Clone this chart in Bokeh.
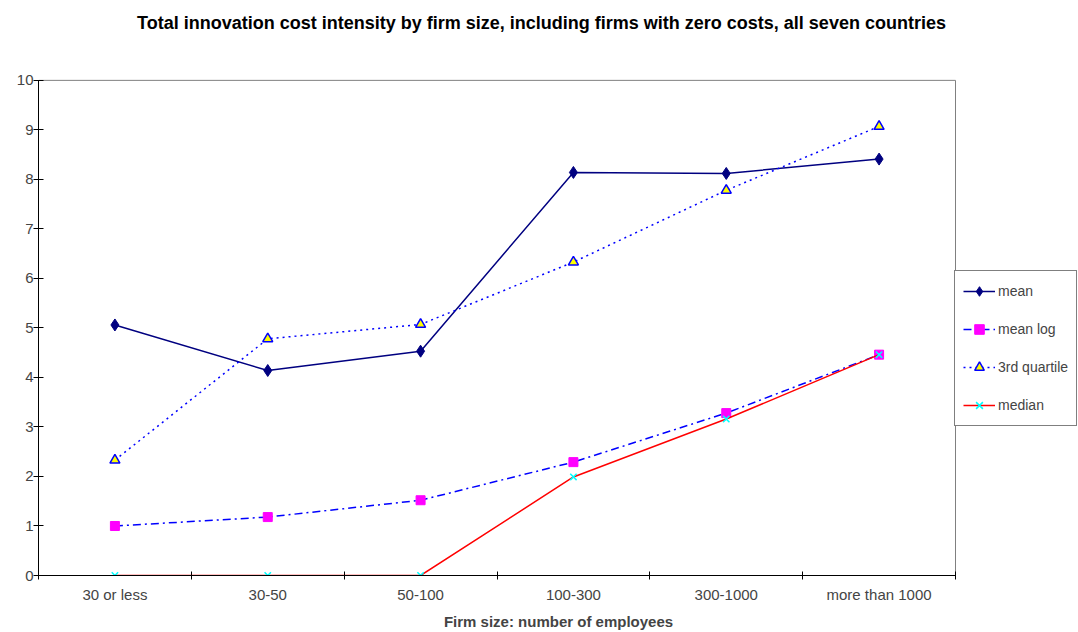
from bokeh.plotting import figure
from bokeh.models import FixedTicker, Legend, LegendItem, Range1d, Label
from bokeh.embed import file_html
from bokeh.resources import INLINE

categories = ["30 or less", "30-50", "50-100", "100-300", "300-1000", "more than 1000"]
mean = [5.06, 4.14, 4.53, 8.14, 8.12, 8.41]
mean_log = [1.00, 1.18, 1.52, 2.29, 3.28, 4.46]
q3 = [2.33, 4.78, 5.07, 6.33, 7.78, 9.07]
median = [0.0, 0.0, 0.0, 1.99, 3.16, 4.46]
y_ticks = list(range(0, 11))
title_text = "Total innovation cost intensity by firm size, including firms with zero costs, all seven countries"

n = len(categories)
xs = [i + 0.5 for i in range(n)]
FONT = "Liberation Sans"

W, H = 1078, 632
LEFT = 38          # left edge of the plot area
AXIS_RIGHT = 955   # right edge of the plot area (legend starts here)
TOP = 80           # top edge of the plot area (value 10)
BOTTOM = 56        # space below the plot area
Y_MAX = 10
# the frame runs to the right and top edges of the canvas so that the legend
# and the title, drawn inside it, are not clipped
x_end = n * (W - LEFT) / (AXIS_RIGHT - LEFT)
y_end = Y_MAX * (H - BOTTOM) / (H - BOTTOM - TOP)
px_x = n / (AXIS_RIGHT - LEFT)          # data units per pixel
px_y = Y_MAX / (H - BOTTOM - TOP)

p = figure(width=W, height=H, output_backend="svg", toolbar_location=None,
           title_location=None,
           x_range=Range1d(0, x_end), y_range=Range1d(0, y_end),
           min_border_left=LEFT, min_border_right=0, min_border_top=0, min_border_bottom=BOTTOM)

p.add_layout(Label(x=(541 - LEFT) * px_x, y=y_end - 23 * px_y, text=title_text,
                   text_align="center", text_baseline="middle", text_font=FONT,
                   text_font_size="18px", text_font_style="bold", text_color="black"))

p.xgrid.visible = False
p.ygrid.visible = False
p.outline_line_color = None
p.background_fill_color = "white"
p.border_fill_color = "white"

# plot-area border (top and right), grey as in the original
p.segment(x0=[0, n], y0=[Y_MAX, 0], x1=[n, n], y1=[Y_MAX, Y_MAX], line_color="#808080", line_width=1)

r_mean_l = p.line(xs, mean, line_color="#000080", line_width=1.5)
r_mean_m = p.scatter(xs, mean, marker="diamond", size=12, fill_color="#000080", line_color="#000080")
r_log_l = p.line(xs, mean_log, line_color="#0000FF", line_width=1.5, line_dash="8 4 2 4")
r_log_m = p.scatter(xs, mean_log, marker="square", size=9, fill_color="#FF00FF", line_color="#FF00FF")
r_q3_l = p.line(xs, q3, line_color="#0000FF", line_width=1.5, line_dash="2 4")
r_q3_m = p.scatter(xs, q3, marker="triangle", size=10, fill_color="#FFFF00", line_color="#0000FF", line_width=1.5)
r_med_l = p.line(xs, median, line_color="#FF0000", line_width=1.5)
r_med_m = p.scatter(xs, median, marker="x", size=9, line_color="#00FFFF", line_width=1.5)

xa = p.xaxis[0]
xa.bounds = (0, n)
xa.ticker = FixedTicker(ticks=xs, minor_ticks=list(range(0, n + 1)))
xa.major_label_overrides = {x: c for x, c in zip(xs, categories)}
xa.major_tick_line_color = None
xa.major_tick_in = 0
xa.major_tick_out = 4
xa.minor_tick_line_color = "black"
xa.minor_tick_in = 4
xa.minor_tick_out = 4
xa.axis_line_color = "black"
xa.major_label_text_font = FONT
xa.major_label_text_font_size = "15px"
xa.major_label_standoff = 6
xa.axis_label = "Firm size: number of employees"
xa.axis_label_text_font = FONT
xa.axis_label_text_font_size = "15px"
xa.axis_label_text_font_style = "bold"
xa.axis_label_standoff = 7

ya = p.yaxis[0]
ya.bounds = (0, Y_MAX)
ya.ticker = FixedTicker(ticks=y_ticks, minor_ticks=[])
ya.major_tick_in = 5
ya.major_tick_out = 5
ya.major_tick_line_color = "black"
ya.minor_tick_line_color = None
ya.axis_line_color = "black"
ya.major_label_text_font = FONT
ya.major_label_text_font_size = "15px"
ya.major_label_standoff = 0

legend = Legend(items=[
    LegendItem(label="mean", renderers=[r_mean_l, r_mean_m]),
    LegendItem(label="mean log", renderers=[r_log_l, r_log_m]),
    LegendItem(label="3rd quartile", renderers=[r_q3_l, r_q3_m]),
    LegendItem(label="median", renderers=[r_med_l, r_med_m]),
], location=(AXIS_RIGHT - LEFT - 1, 149))
legend.border_line_color = "black"
legend.border_line_width = 1
legend.background_fill_color = "white"
legend.background_fill_alpha = 1
legend.padding = 8
legend.spacing = 14
legend.margin = 0
legend.glyph_height = 24
legend.label_height = 24
legend.glyph_width = 32
legend.label_standoff = 3
legend.label_text_font = FONT
legend.label_text_font_size = "14px"
p.add_layout(legend)

open("out.html", "w").write(file_html(p, INLINE))
